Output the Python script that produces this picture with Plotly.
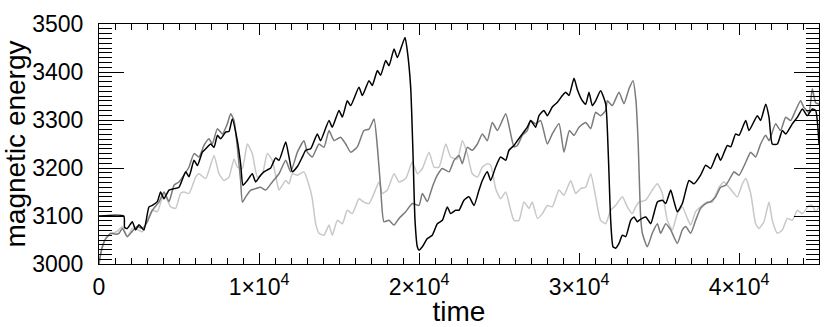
import plotly.graph_objects as go

# run 1 (black)
t_black = [0, 1550, 1600, 1770, 2080, 2290, 2500, 2810, 3125, 3330, 3645, 3850, 4060, 4375, 4690, 5000,
           5420, 5625, 5940, 6150, 6460, 6670, 6980, 7190, 7400, 7600, 7920, 8120, 8330, 8645, 8850, 9000,
           9270, 9580, 9790, 10100, 10310, 10520, 10730, 11040, 11250, 11670, 11880, 12080, 12400, 12710,
           12920, 13230, 13645, 13850, 14375, 14580, 15000, 15210, 15520, 15730, 16250, 16460, 16875, 17080,
           17400, 17600, 17920, 18125, 18440, 18650, 19125, 19270, 19480, 19625, 19750, 19895, 20000, 20210,
           20520, 20830, 21145, 21460, 21770, 21980, 22290, 22500, 22810, 23120, 23440, 23750, 23960, 24270,
           24480, 24790, 25100, 25420, 25625, 25940, 26150, 26460, 26770, 26980, 27290, 27500, 27810, 28020,
           28330, 28650, 28960, 29170, 29375, 29690, 29900, 30210, 30420, 30625, 30830, 31040, 31350, 31670,
           31830, 31980, 32125, 32290, 32500, 32710, 32920, 33230, 33440, 33650, 33750, 34170, 34480, 34900,
           35210, 35420, 35730, 35940, 36145, 36460, 36875, 37190, 37600, 37920, 38230, 38650, 38850, 39270,
           39480, 39790, 40000, 40420, 40625, 41145, 41350, 41670, 41875, 42080, 42400, 42710, 42920, 43330,
           43650, 43960, 44270, 44580, 44790, 45000]
e_black = [3100, 3100, 3076, 3074, 3088, 3071, 3082, 3071, 3119, 3122, 3130, 3150, 3136, 3154, 3157, 3160,
           3192, 3182, 3216, 3205, 3233, 3240, 3250, 3243, 3268, 3261, 3275, 3276, 3302, 3257, 3209, 3164,
           3174, 3188, 3171, 3185, 3192, 3196, 3200, 3221, 3216, 3254, 3222, 3192, 3203, 3223,
           3237, 3240, 3271, 3257, 3299, 3285, 3320, 3306, 3340, 3330, 3368, 3351, 3382, 3372,
           3403, 3393, 3424, 3413, 3448, 3430, 3472, 3444, 3368, 3230, 3091, 3036, 3029, 3036,
           3053, 3060, 3084, 3091, 3119, 3105, 3112, 3112, 3133, 3140, 3122, 3154, 3174, 3192,
           3174, 3202, 3223, 3216, 3237, 3247, 3257, 3271, 3285, 3299, 3285, 3309, 3320, 3309,
           3327, 3337, 3351, 3358, 3351, 3387, 3363, 3340, 3333, 3358, 3330, 3340, 3361, 3333,
           3230, 3091, 3036, 3033, 3043, 3060, 3057, 3091, 3098, 3088, 3091, 3098, 3084, 3129,
           3133, 3126, 3154, 3130, 3109, 3126, 3174, 3167, 3185, 3206, 3199, 3230, 3216, 3247,
           3244, 3271, 3268, 3299, 3278, 3309, 3299, 3333, 3306, 3250, 3250, 3278, 3271, 3292,
           3306, 3323, 3309, 3323, 3320, 3250]

# run 2 (dark grey)
t_dark = [0, 100, 210, 420, 730, 1040, 1250, 1460, 1770, 2080, 2400, 2710, 3020, 3330, 3750, 4060, 4375,
          4690, 5000, 5310, 5625, 5940, 6250, 6560, 6875, 7080, 7400, 7710, 8020, 8230, 8440, 8645, 8850,
          8960, 9170, 9480, 9790, 10100, 10420, 10830, 11250, 11670, 11980, 12400, 12810, 13020, 13330,
          13750, 14060, 14375, 14690, 15100, 15420, 15730, 16145, 16560, 16875, 17190, 17400, 17600, 17810,
          18125, 18440, 18750, 19170, 19580, 20000, 20210, 20520, 20830, 21145, 21460, 21875, 22190, 22500,
          22710, 23020, 23330, 23650, 23960, 24270, 24580, 24900, 25420, 25730, 25940, 26150, 26460, 26770,
          26980, 27290, 27600, 28020, 28330, 28750, 29060, 29400, 29690, 30000, 30420, 30730, 31040, 31350,
          31670, 31770, 32080, 32500, 32810, 33125, 33375, 33560, 33700, 33850, 33960, 34270, 34580, 34900,
          35100, 35420, 35730, 36145, 36460, 36670, 36980, 37290, 37600, 37920, 38230, 38540, 38850, 39170,
          39480, 39690, 40000, 40420, 40730, 41040, 41350, 41670, 41875, 42290, 42600, 42920, 43230, 43540,
          43850, 44060, 44375, 44580, 44790, 45000]
e_dark = [3000, 3020, 3036, 3053, 3064, 3062, 3064, 3074, 3057, 3068, 3078, 3074, 3088, 3112, 3129, 3150, 3130,
          3164, 3171, 3185, 3202, 3230, 3223, 3247, 3261, 3250, 3282, 3271, 3292, 3313, 3299, 3243, 3174,
          3129, 3140, 3154, 3157, 3160, 3154, 3171, 3188, 3216, 3192, 3233, 3257, 3233, 3223,
          3250, 3243, 3278, 3257, 3264, 3250, 3233, 3244, 3278, 3281, 3302, 3243, 3160, 3088,
          3091, 3081, 3095, 3109, 3126, 3122, 3147, 3130, 3160, 3185, 3199, 3192, 3216, 3226,
          3209, 3243, 3237, 3250, 3271, 3257, 3295, 3278, 3313, 3271, 3244, 3247, 3268, 3278,
          3299, 3292, 3299, 3250, 3271, 3292, 3233, 3278, 3268, 3285, 3295, 3282, 3316, 3309,
          3320, 3340, 3330, 3358, 3334, 3365, 3382, 3340, 3250, 3100, 3064, 3036, 3064, 3084,
          3064, 3084, 3071, 3043, 3071, 3078, 3064, 3091, 3116, 3126, 3130, 3140, 3160, 3164,
          3181, 3192, 3185, 3212, 3233, 3223, 3250, 3268, 3257, 3292, 3278, 3306, 3299, 3320,
          3340, 3326, 3316, 3365, 3336, 3333]

# run 3 (light grey)
t_light = [0, 100, 210, 420, 830, 1150, 1460, 1770, 2080, 2400, 2710, 3020, 3330, 3650, 4060, 4480, 4790,
           5100, 5310, 5625, 6040, 6250, 6670, 7190, 7500, 7810, 8125, 8440, 8645, 8960, 9270, 9580, 9900,
           10210, 10520, 10830, 11145, 11250, 11670, 11875, 12080, 12400, 12810, 13125, 13330, 13540, 13750,
           14060, 14375, 14580, 14900, 15210, 15520, 15830, 16250, 16560, 16875, 17190, 17500, 17710, 18020,
           18440, 18750, 19170, 19580, 19900, 20210, 20625, 20940, 21250, 21670, 21980, 22400, 22710, 23020,
           23330, 23650, 23960, 24270, 24480, 24790, 25100, 25420, 25730, 25940, 26250, 26560, 26875, 27080,
           27400, 27710, 28020, 28330, 28750, 29060, 29480, 29790, 30100, 30420, 30730, 31040, 31350, 31670,
           31980, 32290, 32710, 33020, 33330, 33540, 33750, 34170, 34580, 34900, 35210, 35520, 35830, 36145,
           36460, 36770, 36980, 37290, 37600, 38020, 38330, 38750, 39060, 39375, 39900, 40210, 40420, 40730,
           41040, 41250, 41560, 41875, 42080, 42400, 42710, 43020, 43330, 43650, 43960, 44375, 44580, 44790,
           45000]
e_light = [3000, 3020, 3036, 3053, 3064, 3068, 3078, 3057, 3074, 3072, 3067, 3091, 3112, 3109, 3147, 3119, 3116,
           3147, 3150, 3147, 3181, 3188, 3178, 3226, 3188, 3174, 3181, 3219, 3202, 3199, 3250, 3230, 3181,
           3188, 3230, 3216, 3167, 3154, 3174, 3167, 3188, 3185, 3192, 3164, 3136, 3084, 3064,
           3060, 3081, 3060, 3091, 3084, 3112, 3105, 3136, 3129, 3126, 3147, 3171, 3147, 3154,
           3188, 3171, 3178, 3212, 3188, 3199, 3233, 3202, 3202, 3250, 3223, 3219, 3257, 3230,
           3188, 3181, 3202, 3209, 3206, 3157, 3136, 3150, 3112, 3091, 3091, 3129, 3116, 3129,
           3095, 3105, 3122, 3119, 3154, 3143, 3174, 3147, 3157, 3160, 3188, 3140, 3091, 3084,
           3112, 3122, 3140, 3119, 3105, 3119, 3129, 3133, 3154, 3167, 3147, 3091, 3071, 3105,
           3119, 3095, 3081, 3109, 3119, 3129, 3129, 3160, 3171, 3160, 3140, 3167, 3178, 3147,
           3084, 3074, 3088, 3129, 3091, 3064, 3071, 3095, 3091, 3112, 3105, 3122, 3122, 3109,
           3119]

x_tickvals = [0, 10000, 20000, 30000, 40000]
x_ticktext = ["0", "1×10<sup>4</sup>", "2×10<sup>4</sup>", "3×10<sup>4</sup>", "4×10<sup>4</sup>"]

fig = go.Figure()
for t, e, col in [(t_light, e_light, "#c8c8c8"), (t_dark, e_dark, "#7a7a7a"), (t_black, e_black, "#000000")]:
    fig.add_trace(go.Scatter(x=t, y=e, mode="lines",
                             line=dict(color=col, width=1.5, shape="spline", smoothing=0.5),
                             showlegend=False, hoverinfo="skip"))

fig.update_layout(
    width=831, height=327,
    margin=dict(l=99, r=12, t=24, b=63),
    paper_bgcolor="white", plot_bgcolor="white",
    font=dict(family="Liberation Sans, Arial, sans-serif", size=23, color="black"),
)
fig.update_xaxes(
    range=[0, 45000], tickvals=x_tickvals, ticktext=x_ticktext, automargin=False,
    showline=True, linecolor="black", linewidth=1, mirror="allticks",
    ticks="inside", ticklen=11, tickcolor="black", tickwidth=1,
    minor=dict(dtick=1000, ticks="inside", ticklen=6, tickcolor="black", tickwidth=1),
    showgrid=False, zeroline=False, ticklabelstandoff=2,
    title=dict(text="time", standoff=0), tickfont=dict(size=23),
)
fig.update_yaxes(
    range=[3000, 3500], dtick=100, automargin=False,
    showline=True, linecolor="black", linewidth=1, mirror="allticks",
    ticks="inside", ticklen=25, tickcolor="black", tickwidth=1,
    minor=dict(dtick=10, ticks="inside", ticklen=13, tickcolor="black", tickwidth=1),
    showgrid=False, zeroline=False, ticklabelstandoff=10,
    title=dict(text="magnetic energy", standoff=6), tickfont=dict(size=23),
)

# page body has an 8px default margin; drop it so the figure sits at the corner
fig.write_html("out.html", config={"displayModeBar": False},
               post_script="document.body.style.margin='0';")
